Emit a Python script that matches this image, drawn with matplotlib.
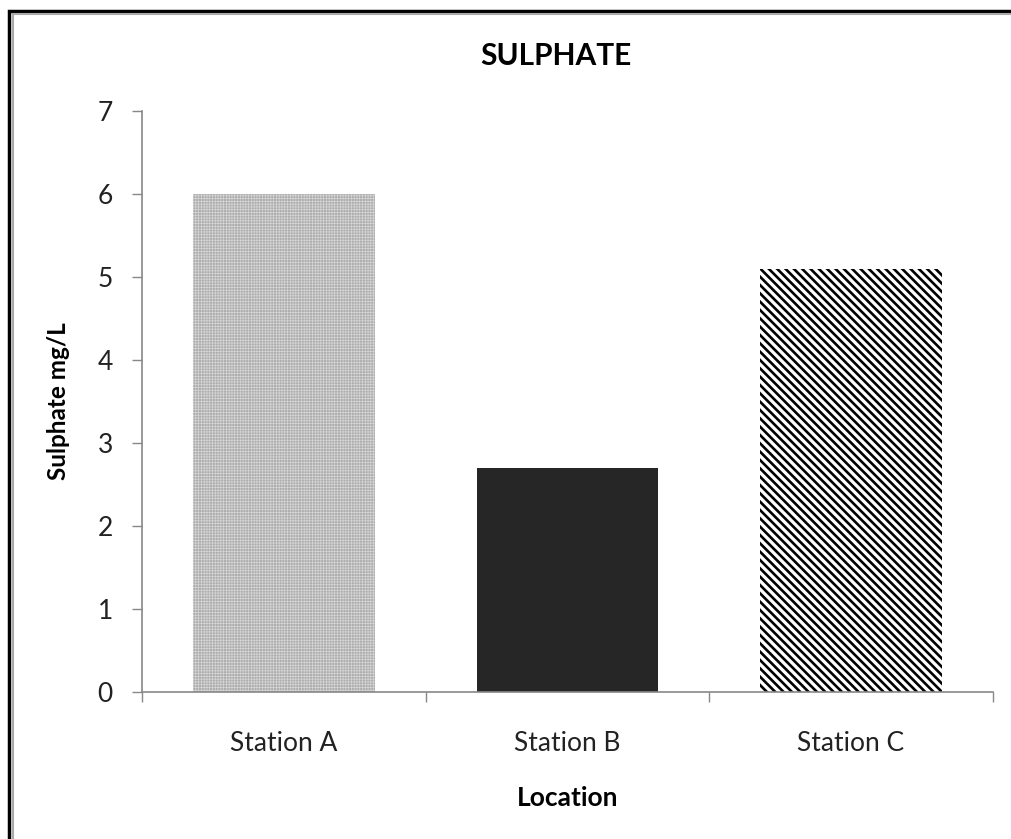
import matplotlib
matplotlib.use('Agg')
import matplotlib.pyplot as plt
from matplotlib.patches import Rectangle

stations = ['Station A', 'Station B', 'Station C']
sulphate = [6.0, 2.7, 5.1]

plt.rcParams['font.family'] = ['Lato', 'DejaVu Sans']

fig = plt.figure(figsize=(10.11, 8.39), dpi=100)
ax = fig.add_axes([0.1405, 0.1752, 0.8415, 0.6925])

x = range(len(stations))
faces = ['#adadad', '#262626', 'white']
hatches = ['++++++', None, '\\\\\\\\']
hcolors = ['#d6d6d6', '#262626', 'black']
for i in x:
    if i == 2:
        plt.rcParams['hatch.linewidth'] = 1.9
    else:
        plt.rcParams['hatch.linewidth'] = 0.5
    ax.bar(i, sulphate[i], width=0.64, color=faces[i], hatch=hatches[i],
           edgecolor=hcolors[i], linewidth=0)

ax.set_xlim(-0.5, 2.5)
ax.set_ylim(0, 7)
ax.set_yticks(range(8))
ax.set_xticks(list(x))
ax.set_xticklabels(stations)
ax.set_xticks([-0.5, 0.5, 1.5, 2.5], minor=True)
ax.tick_params(axis='x', which='major', length=0, pad=28, labelsize=19, colors='#222222')
ax.tick_params(axis='x', which='minor', length=7, width=1, color='#888888')
ax.tick_params(axis='y', length=7, width=1, color='#888888', pad=14, labelsize=19, labelcolor='#222222')

for s in ['top', 'right']:
    ax.spines[s].set_visible(False)
for s in ['left', 'bottom']:
    ax.spines[s].set_color('#888888')
    ax.spines[s].set_linewidth(1.2)

ax.set_xlabel('Location', fontsize=19, fontweight='bold', labelpad=22)
ax.set_ylabel('Sulphate mg/L', fontsize=17.5, fontweight='bold', labelpad=20)
fig.text(0.5502, 0.933, 'SULPHATE', ha='center', va='center', fontsize=21.5, fontweight='bold')

# outer frame like the original screenshot
fig.patches.append(Rectangle((9 / 1011, -0.1), 1.2, 1.1 - 11 / 839, transform=fig.transFigure,
                             fill=False, edgecolor='black', linewidth=2.5))
fig.patches.append(Rectangle((12.5 / 1011, -0.1), 1.2, 1.1 - 14.5 / 839, transform=fig.transFigure,
                             fill=False, edgecolor='#aaaaaa', linewidth=1.5))

fig.savefig('out.png', dpi=100)
